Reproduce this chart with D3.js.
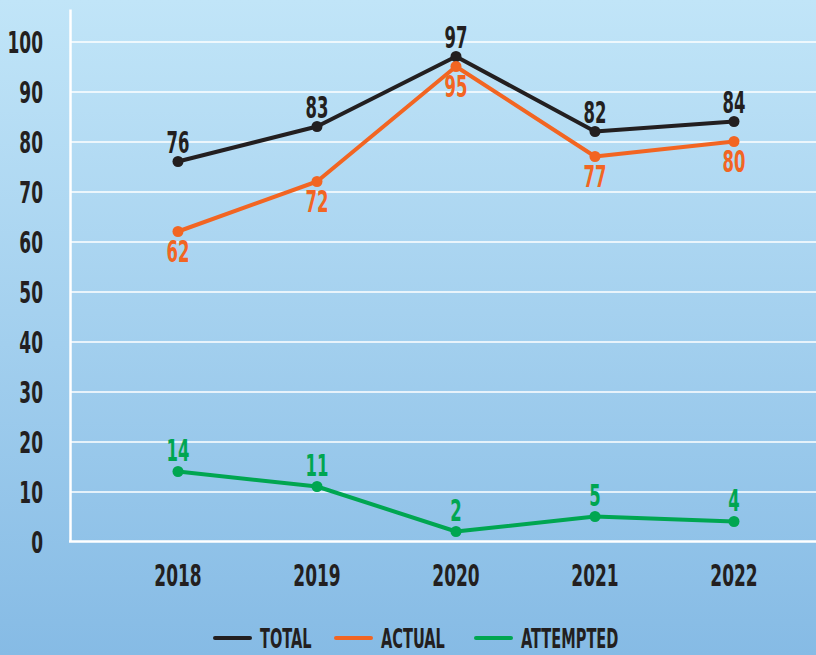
<!DOCTYPE html>
<html><head><meta charset="utf-8">
<script src="https://cdn.jsdelivr.net/npm/d3@7"></script>
<style>
html,body{margin:0;padding:0;}
svg{display:block;}
text{font-family:"Liberation Sans Narrow","DejaVu Sans Condensed",sans-serif;font-weight:bold;}
</style></head>
<body><svg id="c" width="816" height="655"></svg>
<script>
const years = ["2018","2019","2020","2021","2022"];
const totalVals = [76, 83, 97, 82, 84];
const actualVals = [62, 72, 95, 77, 80];
const attemptedVals = [14, 11, 2, 5, 4];
const yTicks = [0,10,20,30,40,50,60,70,80,90,100];
const seriesNames = ["TOTAL","ACTUAL","ATTEMPTED"];
const seriesColors = ["#231f20","#f26522","#00a651"];

const W = 816, H = 655;
const svg = d3.select("#c");
const defs = svg.append("defs");
const g = defs.append("linearGradient").attr("id","bg").attr("x1",0).attr("y1",0).attr("x2",0).attr("y2",1);
g.append("stop").attr("offset","0%").attr("stop-color","#c1e5f8");
g.append("stop").attr("offset","100%").attr("stop-color","#86bbe5");
svg.append("rect").attr("width",W).attr("height",H).attr("fill","url(#bg)");

const x = d3.scalePoint().domain(years).range([178, 734]);
const y = d3.scaleLinear().domain([0, 106.5]).range([541.5, 9]);
const left = 70, right = W;
const SX = 0.61, SXL = 0.6;

const grid = svg.append("g").attr("transform",`translate(${left},0)`)
  .call(d3.axisRight(y).tickValues(yTicks.filter(d=>d>0)).tickSize(right-left).tickFormat(""));
grid.select(".domain").remove();
grid.selectAll("line").attr("stroke","#ffffff").attr("stroke-width",1.5);

const ya = svg.append("g").attr("transform",`translate(${left},0)`)
  .call(d3.axisLeft(y).tickValues(yTicks).tickSize(0).tickFormat(""));
ya.select(".domain").attr("stroke","#ffffff").attr("stroke-width",2.5);

svg.append("g").selectAll("text").data(yTicks).join("text")
  .attr("transform",d=>`translate(43,${y(d)+11.5}) scale(${SX},1)`)
  .attr("text-anchor","end").attr("font-size",31).attr("fill","#231f20")
  .text(d=>d);

const xa = svg.append("g").attr("transform",`translate(0,${y(0)})`)
  .call(d3.axisBottom(x).tickSize(0).tickFormat(""));
xa.select(".domain").remove();
svg.append("line").attr("x1",left-1).attr("x2",right).attr("y1",y(0)).attr("y2",y(0))
  .attr("stroke","#ffffff").attr("stroke-width",2.5);

svg.append("g").selectAll("text").data(years).join("text")
  .attr("transform",d=>`translate(${x(d)},586) scale(${SX},1)`)
  .attr("text-anchor","middle").attr("font-size",31).attr("fill","#231f20")
  .text(d=>d);

const series = [totalVals, actualVals, attemptedVals];
const labelOffset = [-9, 30, -11];
const line = d3.line().x((d,i)=>x(years[i])).y(d=>y(d));
series.forEach((vals,si)=>{
  const c = seriesColors[si];
  const gs = svg.append("g");
  gs.append("path").datum(vals).attr("d",line).attr("fill","none")
    .attr("stroke",c).attr("stroke-width",4).attr("stroke-linejoin","round");
  gs.selectAll("circle").data(vals).join("circle")
    .attr("cx",(d,i)=>x(years[i])).attr("cy",d=>y(d)).attr("r",5.5).attr("fill",c);
  gs.selectAll("text").data(vals).join("text")
    .attr("transform",(d,i)=>`translate(${x(years[i])},${y(d)+labelOffset[si]}) scale(${SX},1)`)
    .attr("text-anchor","middle").attr("font-size",30).attr("fill",c)
    .text(d=>d);
});

const legX = [215, 336, 476];
const lg = svg.append("g");
seriesNames.forEach((n,i)=>{
  lg.append("line").attr("x1",legX[i]).attr("x2",legX[i]+35).attr("y1",638).attr("y2",638)
    .attr("stroke",seriesColors[i]).attr("stroke-width",4).attr("stroke-linecap","round");
  lg.append("text").attr("transform",`translate(${legX[i]+45},648) scale(${SXL},1)`)
    .attr("font-size",27).attr("fill","#231f20").text(n);
});
</script></body></html>
